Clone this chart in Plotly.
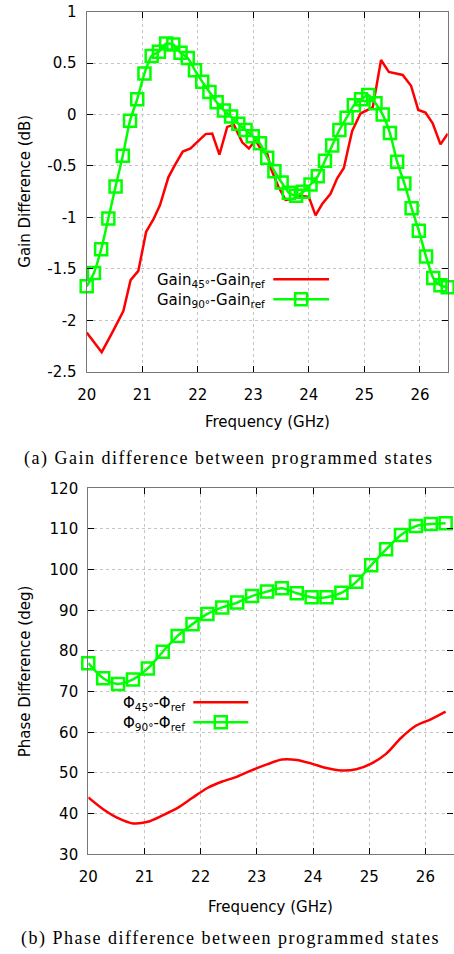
import plotly.graph_objects as go

# ---------------- data: (a) gain difference ----------------
gain45_freq = [20.00, 20.27, 20.45, 20.66, 20.79, 20.93, 21.07, 21.20, 21.32, 21.47,
               21.59, 21.73, 21.87, 21.98, 22.14, 22.26, 22.39, 22.53, 22.65, 22.80,
               22.92, 23.04, 23.16, 23.25, 23.32, 23.45, 23.58, 23.72, 23.85, 24.00,
               24.12, 24.24, 24.39, 24.51, 24.63, 24.70, 24.78, 24.93, 25.15, 25.30,
               25.44, 25.69, 25.84, 25.97, 26.10, 26.23, 26.37, 26.50]
gain45_diff = [-2.12, -2.31, -2.13, -1.91, -1.61, -1.52, -1.14, -1.02, -0.88, -0.61,
               -0.49, -0.36, -0.33, -0.27, -0.19, -0.185, -0.39, -0.12, -0.10, -0.27,
               -0.33, -0.25, -0.36, -0.38, -0.53, -0.70, -0.83, -0.82, -0.79, -0.80,
               -0.98, -0.87, -0.77, -0.62, -0.52, -0.35, -0.16, 0.01, 0.07, 0.53,
               0.415, 0.385, 0.28, 0.045, 0.02, -0.085, -0.29, -0.185]

gain90_freq = [20.00, 20.13, 20.26, 20.39, 20.52, 20.65, 20.78, 20.91, 21.04, 21.17,
               21.30, 21.43, 21.56, 21.69, 21.82, 21.95, 22.08, 22.21, 22.34, 22.47,
               22.60, 22.73, 22.86, 22.99, 23.12, 23.25, 23.38, 23.51, 23.64, 23.77,
               23.90, 24.03, 24.16, 24.29, 24.42, 24.55, 24.68, 24.81, 24.94, 25.07,
               25.20, 25.33, 25.46, 25.59, 25.72, 25.85, 25.98, 26.11, 26.24, 26.37,
               26.50]
gain90_diff = [-1.67, -1.54, -1.31, -1.01, -0.70, -0.40, -0.06, 0.15, 0.40, 0.57,
               0.61, 0.69, 0.68, 0.60, 0.55, 0.43, 0.32, 0.22, 0.12, 0.04,
               -0.02, -0.09, -0.15, -0.21, -0.28, -0.42, -0.55, -0.66, -0.76, -0.79,
               -0.75, -0.68, -0.60, -0.45, -0.30, -0.15, -0.03, 0.09, 0.15, 0.19,
               0.11, 0.00, -0.18, -0.46, -0.67, -0.91, -1.13, -1.38, -1.59, -1.66,
               -1.68]

# ---------------- data: (b) phase difference ----------------
phase_freq = [20.000, 20.265, 20.530, 20.795, 21.060, 21.325, 21.590, 21.855, 22.120,
              22.385, 22.650, 22.915, 23.180, 23.445, 23.710, 23.975, 24.240, 24.505,
              24.770, 25.035, 25.300, 25.565, 25.830, 26.095, 26.360]
phase45_diff = [44.0, 41.1, 38.9, 37.6, 38.0, 39.6, 41.4, 43.9, 46.3, 47.9, 49.1, 50.7,
                52.1, 53.3, 53.2, 52.3, 51.2, 50.6, 50.9, 52.3, 54.7, 58.6, 61.6, 63.2,
                65.1]
phase90_diff = [77.0, 73.3, 71.9, 73.0, 75.7, 79.8, 83.7, 86.6, 89.1, 90.7, 91.9, 93.5,
                94.6, 95.4, 94.2, 93.2, 93.2, 94.3, 97.0, 101.1, 105.0, 108.5, 110.7,
                111.2, 111.4]

# ---------------- tick labels ----------------
freq_ticks = [20, 21, 22, 23, 24, 25, 26]
gain_ticks = [1, 0.5, 0, -0.5, -1, -1.5, -2, -2.5]
gain_ticktext = ["1", "0.5", "0", "-0.5", "-1", "-1.5", "-2", "-2.5"]
phase_ticks = [30, 40, 50, 60, 70, 80, 90, 100, 110, 120]

labels_a = ["Gain<sub>45°</sub>-Gain<sub>ref</sub>", "Gain<sub>90°</sub>-Gain<sub>ref</sub>"]
labels_b = ["Φ<sub>45°</sub>-Φ<sub>ref</sub>", "Φ<sub>90°</sub>-Φ<sub>ref</sub>"]

# ---------------- styling ----------------
W, H = 454, 954
RED = "#ff0000"
GREEN = "#00ff00"
FONT = "DejaVu Sans"
SERIF = "Liberation Serif"


def px(x):
    return x / W


def py(y):
    return 1 - y / H


fig = go.Figure()

fig.add_trace(go.Scatter(x=gain45_freq, y=gain45_diff, mode="lines",
                         line=dict(color=RED, width=2.5), xaxis="x", yaxis="y",
                         showlegend=False))
fig.add_trace(go.Scatter(x=gain90_freq, y=gain90_diff, mode="lines+markers",
                         line=dict(color=GREEN, width=2.5, shape="spline", smoothing=0.6),
                         marker=dict(symbol="square-open", size=12,
                                     line=dict(color=GREEN, width=2.5), color=GREEN),
                         cliponaxis=False, xaxis="x", yaxis="y", showlegend=False))
fig.add_trace(go.Scatter(x=phase_freq, y=phase45_diff, mode="lines",
                         line=dict(color=RED, width=2.5, shape="spline", smoothing=0.8),
                         xaxis="x2", yaxis="y2", showlegend=False))
fig.add_trace(go.Scatter(x=phase_freq, y=phase90_diff, mode="lines+markers",
                         line=dict(color=GREEN, width=2.5, shape="spline", smoothing=0.8),
                         marker=dict(symbol="square-open", size=12,
                                     line=dict(color=GREEN, width=2.5), color=GREEN),
                         cliponaxis=False, xaxis="x2", yaxis="y2", showlegend=False))

axis_common = dict(
    showline=True, linecolor="#777777", linewidth=1.2, mirror="ticks",
    ticks="inside", ticklen=6, tickwidth=1, tickcolor="#000000",
    showgrid=True, gridcolor="#c4c4c4", griddash="dot", gridwidth=1,
    zeroline=False, tickfont=dict(family=FONT, size=15, color="#000000"),
    automargin=False,
)

fig.update_layout(
    width=W, height=H,
    margin=dict(l=0, r=0, t=0, b=0),
    paper_bgcolor="white", plot_bgcolor="white",
    showlegend=False,
    xaxis=dict(domain=[px(86.7), px(447.7)], range=[20, 26.5], tickvals=freq_ticks,
               anchor="y", ticklabelstandoff=9, **axis_common),
    yaxis=dict(domain=[py(371.7), py(11.7)], range=[-2.5, 1], tickvals=gain_ticks,
               ticktext=gain_ticktext, anchor="x", ticklabelstandoff=6, **axis_common),
    xaxis2=dict(domain=[px(88.3), px(453.5)], range=[20, 26.5], tickvals=freq_ticks,
                anchor="y2", ticklabelstandoff=9, **axis_common),
    yaxis2=dict(domain=[py(854.3), py(488.3)], range=[30, 120], tickvals=phase_ticks,
                anchor="x2", ticklabelstandoff=6, **axis_common),
)

annotations = []
shapes = []


def text(x, y, s, size=15, family=FONT, xanchor="center", angle=0):
    annotations.append(dict(x=px(x), y=py(y), xref="paper", yref="paper", text=s,
                            showarrow=False, xanchor=xanchor, yanchor="middle",
                            textangle=angle,
                            font=dict(family=family, size=size, color="#000000")))


# axis titles
text(267.2, 422, "Frequency (GHz)")
text(25, 191.7, "Gain Difference (dB)", angle=-90)
text(270.9, 907, "Frequency (GHz)")
text(25, 671.3, "Phase Difference (deg)", angle=-90)

# captions
cap = '<span style="letter-spacing:1.5px">{}</span>'
text(229, 458, cap.format("(a) Gain difference between programmed states"), size=18,
     family=SERIF)
text(230, 938, cap.format("(b) Phase difference between programmed states"), size=18,
     family=SERIF)


def legend(labels, text_right, line_x0, line_x1, rows):
    colors = [RED, GREEN]
    for i, (lab, yy) in enumerate(zip(labels, rows)):
        text(text_right, yy + 1, lab, xanchor="right")
        shapes.append(dict(type="line", xref="paper", yref="paper",
                           x0=px(line_x0), x1=px(line_x1), y0=py(yy), y1=py(yy),
                           line=dict(color=colors[i], width=2.5)))
        if i == 1:
            cx = (line_x0 + line_x1) / 2
            shapes.append(dict(type="rect", xref="paper", yref="paper",
                               x0=px(cx - 6), x1=px(cx + 6), y0=py(yy + 6), y1=py(yy - 6),
                               line=dict(color=GREEN, width=2.5),
                               fillcolor="rgba(0,0,0,0)"))


legend(labels_a, 266.7, 273.3, 329.0, [279.3, 299.3])
legend(labels_b, 186.7, 193.3, 248.3, [702.3, 722.3])

fig.update_layout(annotations=annotations, shapes=shapes)

fig.write_html("out.html",
               config={"displayModeBar": False},
               post_script="document.body.style.margin='0px';"
                           "document.body.style.overflow='hidden';")
